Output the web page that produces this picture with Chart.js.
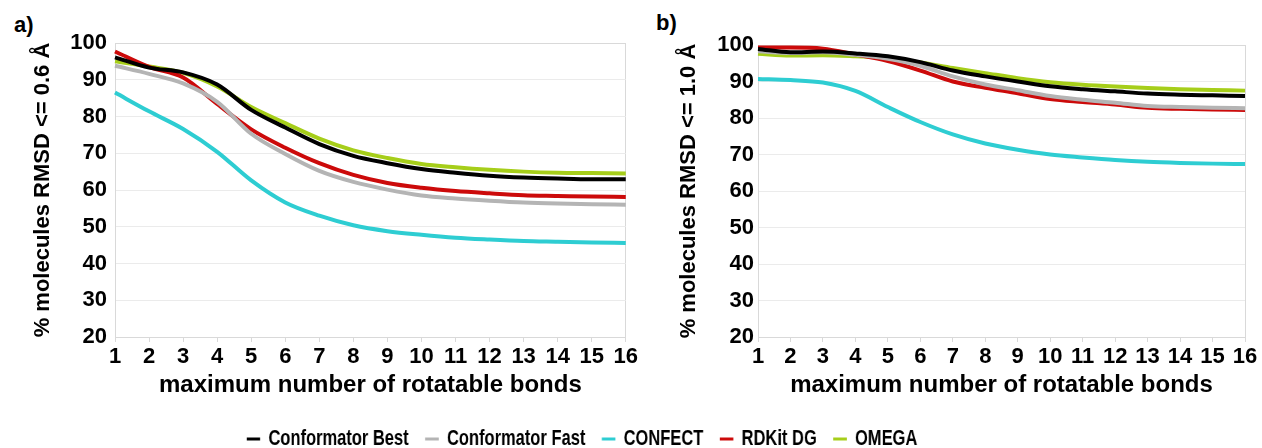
<!DOCTYPE html>
<html>
<head>
<meta charset="utf-8">
<script src="https://cdn.jsdelivr.net/npm/chart.js@4/dist/chart.umd.min.js"></script>
<style>
  html, body { margin: 0; padding: 0; background: #ffffff; }
  body { width: 1262px; height: 448px; position: relative; overflow: hidden; }
  canvas { position: absolute; }
  .panel-label { position: absolute; font: bold 22px 'Liberation Sans', Arial, sans-serif; color: #000; }
  #legendChart { transform: scaleX(0.75); transform-origin: 0 0; }
</style>
</head>
<body>
<div class="panel-label" style="left:14px; top:12px;">a)</div>
<div class="panel-label" style="left:656px; top:10px;">b)</div>
<canvas id="chartA" width="640" height="410" style="left:0; top:0;"></canvas>
<canvas id="chartB" width="622" height="410" style="left:640px; top:0;"></canvas>
<canvas id="legendChart" width="1552" height="90" style="left:0; top:406px;"></canvas>
<script>
// ---- data ----
const bonds = ['1','2','3','4','5','6','7','8','9','10','11','12','13','14','15','16'];
const seriesNames = ['Conformator Best', 'Conformator Fast', 'CONFECT', 'RDKit DG', 'OMEGA'];
const seriesColors = ['#000000', '#b4b4b4', '#2ecdd2', '#cc0a0a', '#a6ce1a'];

// panel a) RMSD <= 0.6 Å
const aBest    = [96.1, 93.3, 92.0, 88.7, 81.8, 77.0, 72.5, 69.3, 67.3, 65.7, 64.7, 63.9, 63.4, 63.1, 62.9, 62.9];
const aFast    = [93.8, 91.6, 89.0, 84.0, 75.3, 69.8, 65.2, 62.2, 60.1, 58.5, 57.7, 57.1, 56.6, 56.3, 56.1, 56.0];
const aConfect = [86.5, 81.4, 76.6, 70.4, 62.6, 56.6, 53.0, 50.4, 48.8, 47.8, 47.0, 46.5, 46.1, 45.9, 45.7, 45.6];
const aRdkit   = [97.7, 93.5, 90.6, 83.4, 76.5, 71.5, 67.3, 64.1, 61.9, 60.6, 59.7, 59.1, 58.6, 58.4, 58.2, 58.1];
const aOmega   = [95.0, 93.6, 91.9, 88.2, 82.6, 78.2, 74.0, 70.8, 68.7, 67.1, 66.2, 65.5, 65.0, 64.7, 64.6, 64.5];

// panel b) RMSD <= 1.0 Å
const bBest    = [98.9, 98.0, 98.2, 97.7, 96.9, 95.3, 93.0, 91.4, 90.0, 88.7, 87.9, 87.3, 86.7, 86.4, 86.2, 86.0];
const bFast    = [98.3, 97.8, 98.0, 97.3, 96.2, 94.3, 91.4, 89.2, 87.6, 86.0, 85.0, 84.2, 83.3, 83.0, 82.8, 82.7];
const bConfect = [90.7, 90.4, 89.7, 87.4, 83.0, 78.9, 75.5, 73.0, 71.3, 70.0, 69.2, 68.5, 68.0, 67.7, 67.5, 67.4];
const bRdkit   = [99.3, 99.3, 99.0, 97.4, 95.6, 93.0, 90.0, 88.3, 86.8, 85.2, 84.4, 83.7, 82.8, 82.5, 82.3, 82.2];
const bOmega   = [97.6, 97.1, 97.2, 96.9, 96.4, 95.2, 93.7, 92.3, 90.9, 89.8, 89.1, 88.6, 88.2, 87.9, 87.7, 87.5];

const yMin = 20, yMax = 100, yStep = 10;
const xTitle = 'maximum number of rotatable bonds';
const yTitleA = '% molecules RMSD <= 0.6 Å';
const yTitleB = '% molecules RMSD <= 1.0 Å';

// ---- helpers ----
const FONT = "'Liberation Sans', Arial, sans-serif";
const GRID = '#ebebeb';
const FRAME = '#d9d9d9';

function datasetsFrom(list) {
  return list.map((vals, i) => ({
    label: seriesNames[i],
    data: vals,
    borderColor: seriesColors[i],
    backgroundColor: seriesColors[i],
    borderWidth: 4,
    pointRadius: 0,
    pointHoverRadius: 0,
    cubicInterpolationMode: 'monotone',
    fill: false
  }));
}

function panel(id, seriesList, yTitle, g) {
  return new Chart(document.getElementById(id), {
    type: 'line',
    data: { labels: bonds, datasets: datasetsFrom(seriesList) },
    options: {
      responsive: false,
      animation: false,
      events: [],
      layout: { padding: { top: g.top, right: g.right, left: 0, bottom: 0 } },
      plugins: { legend: { display: false }, tooltip: { enabled: false } },
      scales: {
        x: {
          type: 'category',
          offset: false,
          afterFit: (s) => { s.height = g.xHeight; },
          grid: {
            drawOnChartArea: true,
            drawTicks: true,
            tickLength: 5,
            tickColor: FRAME,
            color: (ctx) => (ctx.index === bonds.length - 1 ? FRAME : 'rgba(0,0,0,0)'),
            lineWidth: 1
          },
          border: { display: true, color: FRAME, width: 1 },
          ticks: { color: '#000', padding: 2, maxRotation: 0, autoSkip: false, font: { family: FONT, size: 22, weight: 'bold' } },
          title: { display: true, text: xTitle, color: '#000', padding: { top: 0, bottom: g.xTitlePad }, font: { family: FONT, size: 24, weight: 'bold' } }
        },
        y: {
          min: yMin, max: yMax,
          afterFit: (s) => { s.width = g.yWidth; },
          grid: {
            drawTicks: false,
            color: (ctx) => (ctx.tick && ctx.tick.value === yMax ? FRAME : GRID),
            lineWidth: 1
          },
          border: { display: true, color: FRAME, width: 1 },
          ticks: { stepSize: yStep, color: '#000', padding: g.yTickPad, font: { family: FONT, size: 22, weight: 'bold' } },
          title: { display: true, text: yTitle, color: '#000', padding: { top: g.yTitlePad, bottom: 0 }, font: { family: FONT, size: 22, weight: 'bold' } }
        }
      }
    }
  });
}

panel('chartA', [aBest, aFast, aConfect, aRdkit, aOmega], yTitleA,
  { top: 43, right: 14, xHeight: 73, yWidth: 115, yTickPad: 8, yTitlePad: 30, xTitlePad: 10 });
panel('chartB', [bBest, bFast, bConfect, bRdkit, bOmega], yTitleB,
  { top: 45, right: 17, xHeight: 73, yWidth: 118, yTickPad: 4, yTitlePad: 36, xTitlePad: 10 });

// shared legend (canvas is narrowed horizontally by CSS to mimic the condensed legend font)
new Chart(document.getElementById('legendChart'), {
  type: 'line',
  data: {
    labels: [],
    datasets: seriesNames.map((n, i) => ({ label: n, data: [], borderColor: seriesColors[i], backgroundColor: seriesColors[i], borderWidth: 0 }))
  },
  options: {
    responsive: false,
    animation: false,
    events: [],
    layout: { padding: { top: 0, right: 0, left: 0, bottom: 0 } },
    scales: { x: { display: false }, y: { display: false } },
    plugins: {
      tooltip: { enabled: false },
      legend: {
        display: true,
        position: 'top',
        labels: { boxWidth: 18, boxHeight: 3, padding: 22, color: '#000', font: { family: FONT, size: 22, weight: 'bold' } }
      }
    }
  }
});
</script>
</body>
</html>
